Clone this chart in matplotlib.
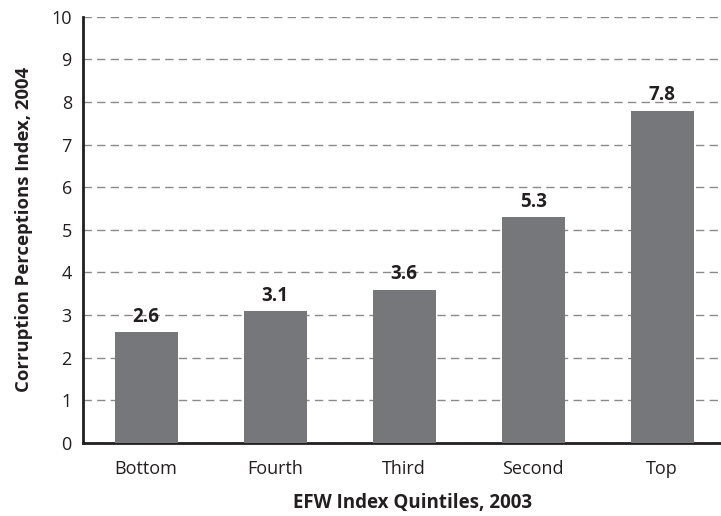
import matplotlib
matplotlib.use("Agg")
import matplotlib.pyplot as plt

categories = ["Bottom", "Fourth", "Third", "Second", "Top"]
values = [2.6, 3.1, 3.6, 5.3, 7.8]
yticks = list(range(0, 11))

plt.rcParams['font.family'] = ['Open Sans', 'DejaVu Sans']

fig = plt.figure(figsize=(7.21, 5.16), dpi=100)
ax = fig.add_axes([0.115, 0.1415, 0.884, 0.826])

x = range(len(categories))
bars = ax.bar(x, values, width=0.49, color="#76777b", zorder=3)
for xi, v in zip(x, values):
    ax.text(xi, v + 0.12, f"{v:.1f}", ha="center", va="bottom",
            fontsize=13.5, fontweight="bold", color="#231f20", zorder=4)

ax.set_xlim(-0.49, 4.45)
ax.set_ylim(0, 10)
ax.set_yticks(yticks)
ax.set_xticks(list(x))
ax.set_xticklabels(categories)
ax.tick_params(axis="both", length=0, labelsize=13, colors="#231f20")
ax.tick_params(axis="x", pad=12)
ax.tick_params(axis="y", pad=8)

ax.yaxis.grid(True, linestyle=(0, (6, 3.8)), color="#8a8a8a", linewidth=1.0, zorder=0)
ax.set_axisbelow(True)

for s in ["top", "right"]:
    ax.spines[s].set_visible(False)
ax.spines["left"].set_linewidth(2)
ax.spines["bottom"].set_linewidth(2)
ax.spines["left"].set_color("#231f20")
ax.spines["bottom"].set_color("#231f20")

ax.set_ylabel("Corruption Perceptions Index, 2004", fontsize=13.3, fontweight="bold",
              color="#231f20")
ax.set_xlabel("EFW Index Quintiles, 2003", fontsize=13.5, fontweight="bold",
              color="#231f20")
ax.yaxis.set_label_coords(-0.078, 0.5)
ax.xaxis.set_label_coords(0.5165, -0.118)

fig.savefig("out.png", dpi=100)
